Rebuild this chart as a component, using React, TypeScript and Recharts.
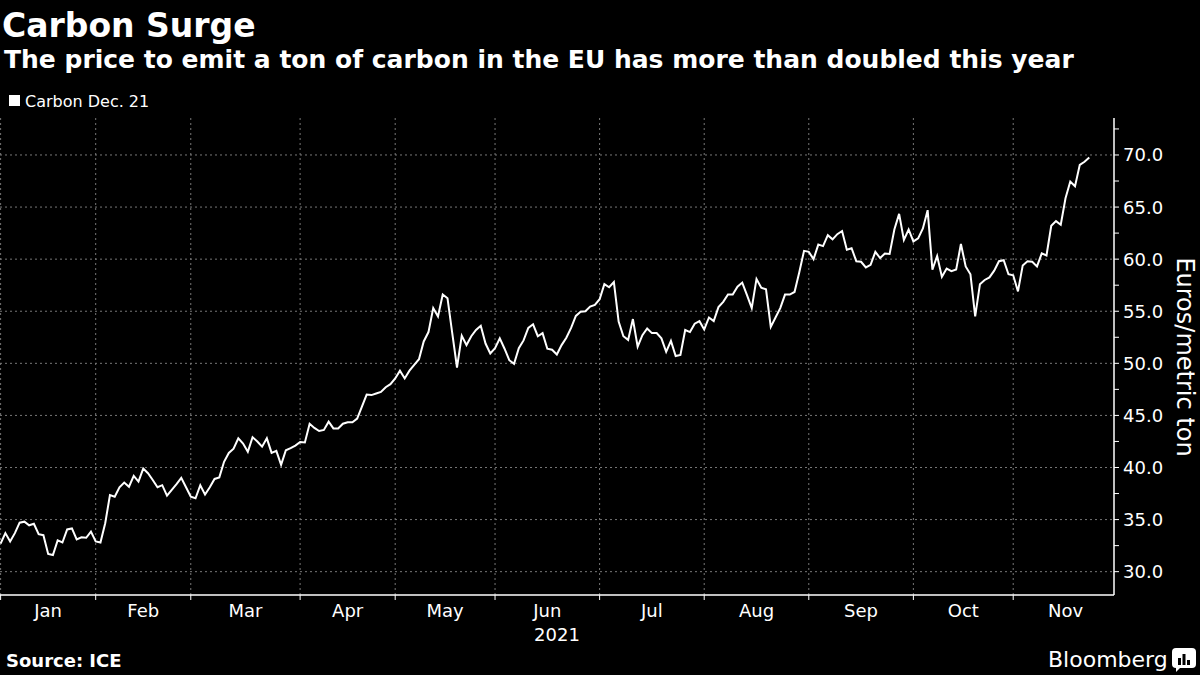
import React from "react";
import { CartesianGrid, Line, LineChart, XAxis, YAxis } from "recharts";

const FONT = "'DejaVu Sans', Verdana, sans-serif";

const months = ["Jan", "Feb", "Mar", "Apr", "May", "Jun", "Jul", "Aug", "Sep", "Oct", "Nov"];
// ICE trading sessions per month in 2021
const sessionsPerMonth = [20, 20, 23, 20, 21, 22, 22, 22, 22, 21, 22];

// Carbon Dec. 21 settlement, one value per trading session (EUR/t)
const prices = [
  32.7, 33.7, 32.9, 33.7, 34.7, 34.8, 34.45, 34.6, 33.6, 33.5,
  31.7, 31.6, 33.0, 32.8, 34.05, 34.15, 33.1, 33.3, 33.25, 33.85,
  32.9, 32.8, 34.65, 37.35, 37.2, 38.1, 38.55, 38.15, 39.2, 38.65,
  39.9, 39.45, 38.8, 38.1, 38.3, 37.3, 37.85, 38.4, 39.0, 38.1,
  37.2, 37.05, 38.3, 37.4, 38.1, 38.9, 39.05, 40.55, 41.4, 41.8,
  42.8, 42.3, 41.5, 42.9, 42.5, 42.0, 42.8, 41.4, 41.6, 40.25,
  41.65, 41.85, 42.1, 42.45, 42.4, 44.2, 43.8, 43.5, 43.6, 44.4,
  43.75, 43.75, 44.2, 44.35, 44.35, 44.7, 45.85, 47.0, 46.95, 47.1,
  47.25, 47.7, 48.0, 48.55, 49.3, 48.55, 49.3, 49.85, 50.4, 52.1,
  53.0, 55.3, 54.5, 56.6, 56.25, 52.9, 49.6, 52.65, 51.75, 52.6,
  53.2, 53.6, 51.9, 50.95, 51.45, 52.4, 51.4, 50.3, 49.95, 51.45,
  52.2, 53.4, 53.75, 52.6, 52.9, 51.4, 51.3, 50.85, 51.75, 52.45,
  53.4, 54.55, 54.95, 55.0, 55.45, 55.6, 56.15, 57.6, 57.3, 57.8,
  54.0, 52.6, 52.25, 54.25, 51.6, 52.7, 53.35, 52.9, 52.9, 52.4,
  51.1, 52.15, 50.7, 50.8, 53.2, 53.0, 53.8, 54.05, 53.25, 54.4,
  54.05, 55.4, 55.9, 56.6, 56.6, 57.35, 57.75, 56.55, 55.3, 58.1,
  57.25, 57.1, 53.5, 54.4, 55.3, 56.6, 56.6, 56.85, 58.75, 60.8,
  60.7, 60.0, 61.4, 61.25, 62.3, 61.9, 62.4, 62.7, 60.9, 61.05,
  59.8, 59.75, 59.2, 59.45, 60.7, 60.1, 60.55, 60.5, 62.85, 64.35,
  61.85, 62.85, 61.7, 62.0, 62.95, 64.7, 59.0, 60.3, 58.3, 59.1,
  58.85, 59.0, 61.45, 59.3, 58.55, 54.5, 57.6, 58.0, 58.25, 58.9,
  59.8, 59.9, 58.55, 58.45, 56.9, 59.4, 59.8, 59.75, 59.3, 60.55,
  60.35, 63.2, 63.65, 63.3, 65.85, 67.45, 67.0, 69.05, 69.35, 69.75,
];

const yTicks = [30, 35, 40, 45, 50, 55, 60, 65, 70];
const yMinorTicks = [32.5, 37.5, 42.5, 47.5, 52.5, 57.5, 62.5, 67.5, 72.5];

const xDomain = [-0.13, 234.2];
const yDomain = [27.76, 73.55];

const data = prices.map((v, i) => ({ i, v }));

// first session of each month, and the middle of each month for its label
const monthStarts: number[] = [];
const monthMids: number[] = [];
sessionsPerMonth.reduce((start, n) => {
  monthStarts.push(start);
  monthMids.push(start + n / 2);
  return start + n;
}, 0);

const xTicks = [...monthStarts, ...monthMids].sort((a, b) => a - b);
const allYTicks = [...yTicks, ...yMinorTicks].sort((a, b) => a - b);

const MonthTick = (props: any) => {
  const { x, y, payload } = props;
  const v = payload.value;
  if (monthStarts.includes(v)) {
    return <line x1={x} x2={x} y1={y} y2={y + 5} stroke="#fff" strokeWidth={1} />;
  }
  const m = monthMids.indexOf(v);
  return (
    <text x={x} y={y + 22} textAnchor="middle" fill="#fff" fontSize={18} fontFamily={FONT}>
      {months[m]}
    </text>
  );
};

const PriceTick = (props: any) => {
  const { x, y, payload } = props;
  const v = payload.value;
  if (!yTicks.includes(v)) return <g />;
  return (
    <text x={x} y={y} dy="0.36em" textAnchor="start" fill="#fff" fontSize={18} fontFamily={FONT}>
      {v.toFixed(1)}
    </text>
  );
};

export default function App() {
  return (
    <div
      style={{
        position: "fixed",
        left: 0,
        top: 0,
        width: 1200,
        height: 675,
        background: "#000",
        overflow: "hidden",
      }}
    >
      <div style={{ position: "absolute", left: 0, top: 0 }}>
        <LineChart width={1200} height={675} data={data} margin={{ top: 118, right: 0, bottom: 0, left: 0 }}>
          <CartesianGrid
            stroke="#777"
            strokeDasharray="2 3"
            horizontalValues={yTicks}
            verticalValues={monthStarts}
          />
          <XAxis
            dataKey="i"
            type="number"
            domain={xDomain}
            ticks={xTicks}
            interval={0}
            height={80}
            tickLine={false}
            tickSize={0}
            tickMargin={0}
            axisLine={{ stroke: "#fff", strokeWidth: 1.5 }}
            tick={MonthTick}
          />
          <YAxis
            orientation="right"
            type="number"
            domain={yDomain}
            ticks={allYTicks}
            interval={0}
            width={86}
            tickSize={5}
            tickMargin={4}
            tickLine={{ stroke: "#fff" }}
            axisLine={{ stroke: "#fff", strokeWidth: 1.5 }}
            tick={PriceTick}
          />
          <Line
            type="linear"
            dataKey="v"
            stroke="#fff"
            strokeWidth={2}
            dot={false}
            isAnimationActive={false}
          />
        </LineChart>
      </div>
      <svg
        width={1200}
        height={675}
        style={{ position: "absolute", left: 0, top: 0, pointerEvents: "none" }}
        fontFamily={FONT}
        fill="#fff"
      >
        <text x={2} y={37} fontSize={33} fontWeight="bold">
          Carbon Surge
        </text>
        <text x={4} y={68} fontSize={25} fontWeight="bold">
          The price to emit a ton of carbon in the EU has more than doubled this year
        </text>
        <rect x={9} y={95} width={11} height={11} fill="#fff" />
        <text x={25} y={107} fontSize={16}>
          Carbon Dec. 21
        </text>
        <text x={557} y={641} fontSize={18} textAnchor="middle">
          2021
        </text>
        <text
          x={1185}
          y={357}
          fontSize={24}
          textAnchor="middle"
          dominantBaseline="central"
          transform="rotate(90 1185 357)"
        >
          Euros/metric ton
        </text>
        <text x={6} y={667} fontSize={18} fontWeight="bold">
          Source: ICE
        </text>
        <text x={1048} y={667} fontSize={22}>
          Bloomberg
        </text>
        <g>
          <rect x={1172} y={648} width={24} height={20} rx={4} fill="#fff" />
          <path d="M1176 668 L1180 668 L1176 672 Z" fill="#fff" />
          <rect x={1178} y={658} width={3} height={7} fill="#000" />
          <rect x={1182.5} y={654} width={3} height={11} fill="#000" />
          <rect x={1187} y={660} width={3} height={5} fill="#000" />
        </g>
      </svg>
    </div>
  );
}
